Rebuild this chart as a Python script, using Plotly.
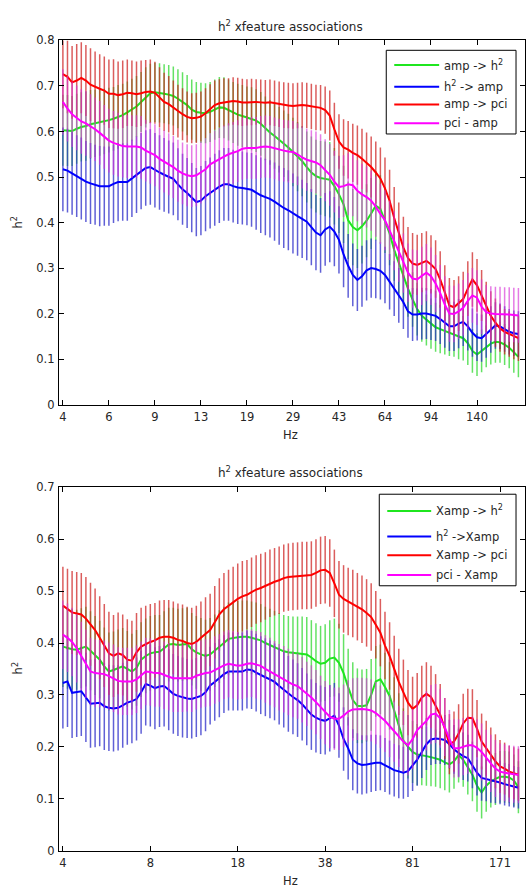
import plotly.graph_objects as go

# frequency-bin index (x positions of the 100 log-spaced bins)
BINS = list(range(1, 101))

# tick labels (Hz) and the bins they sit on
TOP_TICK_BINS = [1, 11, 21, 31, 41, 51, 61, 71, 81, 91]
TOP_TICK_HZ = ["4", "6", "9", "13", "19", "29", "43", "64", "94", "140"]
BOT_TICK_BINS = [1, 20, 39, 58, 77, 96]
BOT_TICK_HZ = ["4", "8", "18", "38", "81", "171"]

# ---------------- top panel ----------------
top_amp_h2 = [0.603, 0.602, 0.601, 0.606, 0.61, 0.612, 0.616, 0.618, 0.62, 0.622,
              0.625, 0.628, 0.632, 0.636, 0.642, 0.648, 0.655, 0.665, 0.675, 0.684,
              0.686, 0.685, 0.683, 0.681, 0.678, 0.672, 0.665, 0.658, 0.648, 0.643,
              0.641, 0.64, 0.643, 0.648, 0.653, 0.652, 0.647, 0.642, 0.637, 0.634,
              0.631, 0.628, 0.624, 0.617, 0.607, 0.598, 0.59, 0.582, 0.573, 0.565,
              0.555, 0.545, 0.535, 0.522, 0.51, 0.502, 0.498, 0.496, 0.494, 0.48,
              0.462, 0.44, 0.405, 0.39, 0.383, 0.392, 0.404, 0.42, 0.437, 0.43,
              0.405, 0.376, 0.34, 0.31, 0.285, 0.255, 0.231, 0.21, 0.195, 0.186,
              0.178, 0.17, 0.166, 0.162, 0.158, 0.155, 0.15, 0.146, 0.135, 0.118,
              0.11, 0.118, 0.128, 0.134, 0.138, 0.137, 0.132, 0.125, 0.115, 0.105]
top_h2_amp = [0.517, 0.514, 0.508, 0.502, 0.497, 0.49, 0.486, 0.483, 0.48, 0.48,
              0.48, 0.485, 0.489, 0.489, 0.489, 0.497, 0.505, 0.513, 0.52, 0.522,
              0.515, 0.51, 0.505, 0.5, 0.496, 0.484, 0.473, 0.465, 0.455, 0.445,
              0.448, 0.458, 0.465, 0.472, 0.479, 0.484, 0.484, 0.48, 0.477, 0.476,
              0.474, 0.472, 0.466, 0.46, 0.456, 0.452, 0.446, 0.438, 0.432, 0.427,
              0.42, 0.414, 0.408, 0.402, 0.39, 0.378, 0.372, 0.385, 0.391, 0.38,
              0.362, 0.33, 0.305, 0.285, 0.274, 0.282, 0.295, 0.3, 0.298, 0.294,
              0.285, 0.27, 0.255, 0.24, 0.225, 0.205, 0.198, 0.198, 0.2, 0.2,
              0.198, 0.195, 0.188, 0.18, 0.172, 0.172, 0.178, 0.182, 0.172, 0.158,
              0.148, 0.146, 0.155, 0.165, 0.174, 0.172, 0.166, 0.16, 0.157, 0.155]
top_amp_pci = [0.726, 0.72, 0.708, 0.712, 0.718, 0.712, 0.703, 0.698, 0.694, 0.69,
               0.683, 0.683, 0.68, 0.682, 0.685, 0.684, 0.682, 0.684, 0.687, 0.688,
               0.685, 0.675, 0.665, 0.66, 0.652, 0.645, 0.638, 0.632, 0.629, 0.63,
               0.633, 0.64, 0.65, 0.658, 0.662, 0.664, 0.665, 0.667, 0.666, 0.664,
               0.664, 0.665, 0.665, 0.664, 0.663, 0.664, 0.662, 0.66, 0.658, 0.657,
               0.656, 0.657, 0.658, 0.657, 0.655, 0.653, 0.652, 0.647, 0.635, 0.605,
               0.578, 0.565, 0.56, 0.553, 0.548, 0.54, 0.532, 0.522, 0.51, 0.497,
               0.475, 0.448, 0.41, 0.376, 0.345, 0.322, 0.31, 0.307, 0.312, 0.316,
               0.308, 0.298, 0.275, 0.245, 0.218, 0.214, 0.222, 0.232, 0.255, 0.275,
               0.262, 0.24, 0.215, 0.195, 0.18, 0.168, 0.16, 0.155, 0.15, 0.146]
top_pci_amp = [0.665, 0.65, 0.638, 0.63, 0.622, 0.618, 0.612, 0.605, 0.597, 0.588,
               0.58, 0.575, 0.571, 0.568, 0.567, 0.567, 0.567, 0.565, 0.558, 0.553,
               0.548, 0.54, 0.534, 0.528, 0.522, 0.514, 0.508, 0.504, 0.502, 0.504,
               0.51, 0.517, 0.528, 0.534, 0.54, 0.545, 0.55, 0.553, 0.557, 0.562,
               0.564, 0.564, 0.564, 0.566, 0.567, 0.566, 0.563, 0.56, 0.558, 0.556,
               0.555, 0.55, 0.543, 0.538, 0.535, 0.532, 0.526, 0.515, 0.505, 0.49,
               0.478, 0.48, 0.484, 0.482, 0.47, 0.462, 0.456, 0.448, 0.435, 0.419,
               0.405, 0.383, 0.36, 0.335, 0.311, 0.29, 0.277, 0.275, 0.283, 0.29,
               0.282, 0.266, 0.245, 0.22, 0.2, 0.199, 0.205, 0.213, 0.228, 0.24,
               0.235, 0.215, 0.203, 0.2, 0.199, 0.199, 0.198, 0.198, 0.197, 0.196]

top_amp_h2_err = [0.078, 0.078, 0.077, 0.077, 0.076, 0.076, 0.075, 0.074, 0.073, 0.072,
                  0.071, 0.07, 0.07, 0.069, 0.068, 0.068, 0.067, 0.066, 0.066, 0.065,
                  0.065, 0.065, 0.065, 0.065, 0.065, 0.065, 0.065, 0.066, 0.066, 0.066,
                  0.066, 0.066, 0.066, 0.066, 0.067, 0.067, 0.067, 0.067, 0.068, 0.068,
                  0.068, 0.069, 0.069, 0.07, 0.07, 0.071, 0.072, 0.072, 0.073, 0.074,
                  0.075, 0.076, 0.077, 0.078, 0.079, 0.08, 0.081, 0.082, 0.083, 0.084,
                  0.085, 0.085, 0.085, 0.084, 0.083, 0.082, 0.08, 0.078, 0.076, 0.074,
                  0.072, 0.07, 0.068, 0.066, 0.064, 0.062, 0.06, 0.058, 0.057, 0.056,
                  0.055, 0.054, 0.053, 0.052, 0.051, 0.05, 0.05, 0.049, 0.048, 0.048,
                  0.047, 0.047, 0.046, 0.046, 0.046, 0.045, 0.045, 0.045, 0.045, 0.045]
top_h2_amp_err = [0.092, 0.092, 0.091, 0.09, 0.09, 0.089, 0.089, 0.088, 0.088, 0.087,
                  0.087, 0.086, 0.086, 0.085, 0.085, 0.085, 0.084, 0.084, 0.083, 0.083,
                  0.082, 0.082, 0.081, 0.08, 0.08, 0.079, 0.078, 0.077, 0.076, 0.075,
                  0.076, 0.077, 0.078, 0.079, 0.08, 0.08, 0.08, 0.08, 0.08, 0.08,
                  0.08, 0.081, 0.082, 0.083, 0.084, 0.085, 0.086, 0.087, 0.088, 0.088,
                  0.088, 0.087, 0.086, 0.085, 0.084, 0.083, 0.082, 0.08, 0.078, 0.076,
                  0.074, 0.072, 0.07, 0.069, 0.068, 0.067, 0.066, 0.065, 0.064, 0.063,
                  0.062, 0.061, 0.06, 0.06, 0.059, 0.058, 0.058, 0.057, 0.057, 0.056,
                  0.056, 0.055, 0.055, 0.055, 0.054, 0.054, 0.054, 0.053, 0.053, 0.053,
                  0.052, 0.052, 0.052, 0.051, 0.051, 0.05, 0.05, 0.05, 0.05, 0.05]
top_amp_pci_err = [0.075, 0.08, 0.08, 0.08, 0.078, 0.078, 0.08, 0.078, 0.076, 0.075,
                   0.075, 0.076, 0.074, 0.074, 0.073, 0.072, 0.072, 0.072, 0.07, 0.07,
                   0.068, 0.066, 0.064, 0.062, 0.06, 0.058, 0.057, 0.056, 0.055, 0.055,
                   0.055, 0.055, 0.054, 0.054, 0.053, 0.053, 0.052, 0.052, 0.052, 0.052,
                   0.051, 0.051, 0.05, 0.05, 0.05, 0.05, 0.05, 0.05, 0.05, 0.05,
                   0.05, 0.05, 0.05, 0.05, 0.05, 0.05, 0.05, 0.052, 0.055, 0.058,
                   0.06, 0.062, 0.063, 0.064, 0.065, 0.066, 0.066, 0.067, 0.068, 0.068,
                   0.068, 0.068, 0.068, 0.068, 0.068, 0.068, 0.067, 0.066, 0.065, 0.065,
                   0.064, 0.063, 0.062, 0.061, 0.06, 0.06, 0.06, 0.06, 0.06, 0.06,
                   0.058, 0.056, 0.055, 0.054, 0.053, 0.052, 0.05, 0.05, 0.05, 0.05]
top_pci_amp_err = [0.072, 0.072, 0.072, 0.071, 0.071, 0.071, 0.07, 0.07, 0.07, 0.07,
                   0.07, 0.07, 0.07, 0.069, 0.069, 0.069, 0.069, 0.069, 0.068, 0.068,
                   0.068, 0.068, 0.068, 0.068, 0.068, 0.068, 0.068, 0.068, 0.068, 0.068,
                   0.068, 0.068, 0.068, 0.068, 0.068, 0.068, 0.068, 0.068, 0.068, 0.068,
                   0.068, 0.068, 0.068, 0.068, 0.068, 0.068, 0.068, 0.068, 0.068, 0.068,
                   0.068, 0.068, 0.068, 0.068, 0.068, 0.068, 0.068, 0.068, 0.068, 0.068,
                   0.068, 0.068, 0.068, 0.068, 0.067, 0.067, 0.067, 0.066, 0.066, 0.066,
                   0.066, 0.065, 0.065, 0.065, 0.065, 0.064, 0.064, 0.064, 0.064, 0.063,
                   0.063, 0.063, 0.062, 0.062, 0.062, 0.062, 0.061, 0.061, 0.061, 0.06,
                   0.06, 0.06, 0.06, 0.06, 0.06, 0.06, 0.06, 0.06, 0.06, 0.06]

# ---------------- bottom panel ----------------
bot_xamp_h2 = [0.393, 0.39, 0.388, 0.387, 0.39, 0.393, 0.385, 0.376, 0.368, 0.355,
               0.345, 0.348, 0.352, 0.355, 0.35, 0.345, 0.352, 0.368, 0.375, 0.38,
               0.382, 0.383, 0.39, 0.397, 0.398, 0.396, 0.397, 0.398, 0.388, 0.382,
               0.378, 0.375, 0.378, 0.385, 0.393, 0.4, 0.408, 0.41, 0.411, 0.412,
               0.412, 0.41, 0.408, 0.405, 0.4, 0.396, 0.392, 0.388, 0.384, 0.382,
               0.381, 0.38, 0.38, 0.378, 0.372, 0.365, 0.36, 0.362, 0.37, 0.372,
               0.362, 0.342, 0.315, 0.29, 0.279, 0.278, 0.28, 0.3, 0.326, 0.33,
               0.315, 0.298, 0.27, 0.24, 0.212, 0.2, 0.19, 0.185, 0.184, 0.182,
               0.18, 0.178, 0.175, 0.17, 0.166, 0.172, 0.184, 0.175, 0.16, 0.146,
               0.125, 0.112, 0.125, 0.133, 0.138, 0.142, 0.142, 0.141, 0.135, 0.122]
bot_h2_xamp = [0.323, 0.326, 0.304, 0.306, 0.307, 0.295, 0.283, 0.284, 0.285, 0.278,
               0.275, 0.274, 0.275, 0.28, 0.285, 0.288, 0.292, 0.305, 0.321, 0.318,
               0.313, 0.316, 0.317, 0.31, 0.302, 0.298, 0.295, 0.293, 0.292, 0.295,
               0.298, 0.305, 0.318, 0.325, 0.332, 0.34, 0.345, 0.345, 0.345, 0.345,
               0.349, 0.348, 0.343, 0.338, 0.334, 0.33, 0.325, 0.317, 0.31, 0.302,
               0.296, 0.29, 0.282, 0.272, 0.262, 0.256, 0.252, 0.25, 0.255, 0.26,
               0.241, 0.215, 0.197, 0.175, 0.168, 0.165, 0.166, 0.168, 0.169, 0.169,
               0.165, 0.16, 0.155, 0.152, 0.15, 0.153, 0.165, 0.175, 0.19, 0.205,
               0.214, 0.216, 0.215, 0.213, 0.205, 0.195, 0.188, 0.182, 0.178, 0.165,
               0.15, 0.14, 0.138, 0.135, 0.133, 0.131, 0.128, 0.126, 0.123, 0.121]
bot_xamp_pci = [0.472, 0.465, 0.459, 0.457, 0.455, 0.447, 0.436, 0.425, 0.41, 0.395,
                0.38, 0.375, 0.38, 0.377, 0.368, 0.366, 0.382, 0.393, 0.398, 0.402,
                0.405, 0.41, 0.412, 0.412, 0.41, 0.406, 0.404, 0.4, 0.398, 0.402,
                0.41, 0.418, 0.425, 0.44, 0.455, 0.465, 0.472, 0.478, 0.485, 0.49,
                0.493, 0.498, 0.503, 0.506, 0.51, 0.515, 0.518, 0.521, 0.525, 0.527,
                0.528, 0.529, 0.53, 0.53, 0.531, 0.535, 0.54, 0.541, 0.535, 0.515,
                0.493, 0.485, 0.48, 0.476, 0.47, 0.465, 0.458, 0.45, 0.435, 0.42,
                0.395, 0.375, 0.35, 0.325, 0.305, 0.285, 0.273, 0.28, 0.295, 0.302,
                0.296, 0.28, 0.262, 0.235, 0.205, 0.21, 0.225, 0.245, 0.256, 0.255,
                0.235, 0.21, 0.197, 0.185, 0.172, 0.162, 0.158, 0.152, 0.149, 0.146]
bot_pci_xamp = [0.416, 0.41, 0.402, 0.39, 0.375, 0.36, 0.345, 0.342, 0.341, 0.34,
                0.336, 0.332, 0.327, 0.326, 0.326, 0.326, 0.33, 0.338, 0.345, 0.344,
                0.342, 0.342, 0.338, 0.335, 0.332, 0.332, 0.332, 0.333, 0.332, 0.337,
                0.34, 0.342, 0.343, 0.348, 0.352, 0.357, 0.36, 0.358, 0.356, 0.357,
                0.36, 0.361, 0.358, 0.356, 0.35, 0.345, 0.34, 0.334, 0.33, 0.325,
                0.32, 0.317, 0.31, 0.302, 0.295, 0.286, 0.276, 0.266, 0.258, 0.254,
                0.254, 0.26, 0.268, 0.272, 0.273, 0.273, 0.272, 0.27, 0.265, 0.258,
                0.25, 0.24, 0.23, 0.22, 0.21, 0.203, 0.215, 0.232, 0.241, 0.25,
                0.262, 0.264, 0.255, 0.238, 0.215, 0.197, 0.197, 0.2, 0.203, 0.203,
                0.198, 0.19, 0.178, 0.168, 0.158, 0.152, 0.15, 0.148, 0.147, 0.146]

bot_xamp_h2_err = [0.078, 0.078, 0.078, 0.077, 0.077, 0.077, 0.076, 0.076, 0.075, 0.075,
                   0.075, 0.074, 0.074, 0.074, 0.073, 0.073, 0.073, 0.072, 0.072, 0.072,
                   0.072, 0.071, 0.071, 0.071, 0.07, 0.07, 0.07, 0.07, 0.07, 0.07,
                   0.07, 0.07, 0.07, 0.07, 0.07, 0.07, 0.07, 0.07, 0.07, 0.07,
                   0.07, 0.07, 0.07, 0.07, 0.07, 0.07, 0.07, 0.07, 0.07, 0.07,
                   0.07, 0.071, 0.071, 0.072, 0.072, 0.073, 0.073, 0.074, 0.074, 0.075,
                   0.075, 0.075, 0.074, 0.073, 0.072, 0.071, 0.07, 0.069, 0.068, 0.067,
                   0.066, 0.065, 0.064, 0.063, 0.062, 0.061, 0.06, 0.059, 0.058, 0.057,
                   0.056, 0.055, 0.055, 0.054, 0.054, 0.053, 0.053, 0.052, 0.052, 0.051,
                   0.05, 0.05, 0.05, 0.05, 0.05, 0.05, 0.05, 0.05, 0.05, 0.05]
bot_h2_xamp_err = [0.088, 0.088, 0.087, 0.087, 0.086, 0.086, 0.085, 0.085, 0.084, 0.084,
                   0.083, 0.083, 0.082, 0.082, 0.081, 0.081, 0.08, 0.08, 0.08, 0.079,
                   0.079, 0.078, 0.078, 0.078, 0.077, 0.077, 0.077, 0.076, 0.076, 0.076,
                   0.076, 0.075, 0.075, 0.075, 0.075, 0.075, 0.075, 0.075, 0.075, 0.075,
                   0.075, 0.075, 0.075, 0.075, 0.075, 0.075, 0.074, 0.074, 0.073, 0.073,
                   0.072, 0.071, 0.07, 0.069, 0.068, 0.067, 0.066, 0.065, 0.064, 0.063,
                   0.062, 0.061, 0.06, 0.059, 0.058, 0.057, 0.056, 0.055, 0.054, 0.053,
                   0.052, 0.052, 0.051, 0.051, 0.05, 0.05, 0.05, 0.05, 0.05, 0.05,
                   0.049, 0.049, 0.048, 0.048, 0.047, 0.047, 0.046, 0.046, 0.045, 0.045,
                   0.044, 0.044, 0.043, 0.043, 0.042, 0.042, 0.041, 0.041, 0.04, 0.04]
bot_xamp_pci_err = [0.075, 0.078, 0.08, 0.08, 0.08, 0.08, 0.08, 0.08, 0.08, 0.08,
                    0.08, 0.079, 0.079, 0.078, 0.078, 0.077, 0.076, 0.075, 0.074, 0.073,
                    0.072, 0.072, 0.071, 0.071, 0.07, 0.07, 0.07, 0.07, 0.07, 0.07,
                    0.07, 0.07, 0.07, 0.07, 0.07, 0.07, 0.069, 0.069, 0.068, 0.068,
                    0.067, 0.067, 0.066, 0.066, 0.065, 0.065, 0.065, 0.065, 0.065, 0.065,
                    0.065, 0.065, 0.065, 0.065, 0.065, 0.065, 0.065, 0.065, 0.065, 0.065,
                    0.065, 0.065, 0.065, 0.065, 0.065, 0.065, 0.065, 0.065, 0.065, 0.065,
                    0.065, 0.065, 0.064, 0.064, 0.063, 0.063, 0.062, 0.062, 0.061, 0.061,
                    0.06, 0.06, 0.059, 0.059, 0.058, 0.058, 0.057, 0.057, 0.056, 0.056,
                    0.055, 0.054, 0.053, 0.052, 0.052, 0.051, 0.05, 0.05, 0.05, 0.05]
bot_pci_xamp_err = [0.066, 0.066, 0.066, 0.066, 0.066, 0.066, 0.065, 0.065, 0.065, 0.065,
                    0.065, 0.065, 0.065, 0.065, 0.065, 0.065, 0.065, 0.065, 0.065, 0.065,
                    0.065, 0.065, 0.065, 0.065, 0.065, 0.065, 0.065, 0.065, 0.065, 0.065,
                    0.065, 0.065, 0.065, 0.065, 0.065, 0.065, 0.065, 0.065, 0.065, 0.065,
                    0.065, 0.065, 0.065, 0.065, 0.065, 0.065, 0.064, 0.064, 0.064, 0.064,
                    0.063, 0.063, 0.063, 0.062, 0.062, 0.062, 0.061, 0.061, 0.061, 0.06,
                    0.06, 0.06, 0.06, 0.06, 0.06, 0.06, 0.06, 0.06, 0.06, 0.06,
                    0.06, 0.06, 0.059, 0.059, 0.059, 0.058, 0.058, 0.058, 0.058, 0.057,
                    0.057, 0.057, 0.057, 0.056, 0.056, 0.056, 0.056, 0.055, 0.055, 0.055,
                    0.055, 0.055, 0.055, 0.055, 0.055, 0.055, 0.055, 0.055, 0.055, 0.055]

TOP_NAMES = ["amp -> h<sup>2</sup>", "h<sup>2</sup> -> amp", "amp -> pci", "pci - amp"]
BOT_NAMES = ["Xamp -> h<sup>2</sup>", "h<sup>2</sup> ->Xamp", "Xamp -> pci", "pci - Xamp"]
TITLE = "h<sup>2</sup> xfeature associations"

LINE_COLORS = ["#1fe61f", "#0000ff", "#ff0000", "#ff00ff"]
BAR_COLORS = ["rgba(40,215,40,0.72)", "rgba(40,40,200,0.74)",
              "rgba(205,30,30,0.72)", "rgba(215,50,215,0.65)"]

FONT = "DejaVu Sans, Verdana, sans-serif"
TXT = "#262626"
FS = 11.5

W, H = 526, 892
X0 = 59 / W


def px_x(p):
    return p / W


def px_y(p):
    return 1 - p / H


fig = go.Figure()

top_series = [(top_amp_h2, top_amp_h2_err), (top_h2_amp, top_h2_amp_err),
              (top_amp_pci, top_amp_pci_err), (top_pci_amp, top_pci_amp_err)]
bot_series = [(bot_xamp_h2, bot_xamp_h2_err), (bot_h2_xamp, bot_h2_xamp_err),
              (bot_xamp_pci, bot_xamp_pci_err), (bot_pci_xamp, bot_pci_xamp_err)]

for k, (vals, err) in enumerate(top_series):
    fig.add_trace(go.Scatter(
        x=BINS, y=vals, mode="lines", name=TOP_NAMES[k], showlegend=False,
        line=dict(color=LINE_COLORS[k], width=2),
        error_y=dict(type="data", array=err, symmetric=True,
                     color=BAR_COLORS[k], thickness=1.5, width=0),
        xaxis="x", yaxis="y"))

for k, (vals, err) in enumerate(bot_series):
    fig.add_trace(go.Scatter(
        x=BINS, y=vals, mode="lines", name=BOT_NAMES[k], showlegend=False,
        line=dict(color=LINE_COLORS[k], width=2),
        error_y=dict(type="data", array=err, symmetric=True,
                     color=BAR_COLORS[k], thickness=1.5, width=0),
        xaxis="x2", yaxis="y2"))

axis_common = dict(showline=True, linecolor="black", linewidth=1, mirror="ticks",
                   ticks="inside", ticklen=5, tickcolor="black", tickwidth=1,
                   showgrid=False, zeroline=False,
                   tickfont=dict(family=FONT, size=FS, color=TXT))

fig.update_layout(
    width=W, height=H,
    margin=dict(l=0, r=0, t=0, b=0),
    paper_bgcolor="white", plot_bgcolor="white",
    showlegend=False,
    xaxis=dict(domain=[X0, 1.0], anchor="y", range=[0.13, 101.43],
               tickmode="array", tickvals=TOP_TICK_BINS, ticktext=TOP_TICK_HZ,
               ticklabelstandoff=2, **axis_common),
    yaxis=dict(domain=[px_y(404), px_y(34)], anchor="x", range=[0, 0.8],
               dtick=0.1, tick0=0, ticklabelstandoff=1, **axis_common),
    xaxis2=dict(domain=[X0, 1.0], anchor="y2", range=[0.13, 101.43],
                tickmode="array", tickvals=BOT_TICK_BINS, ticktext=BOT_TICK_HZ,
                ticklabelstandoff=2, **axis_common),
    yaxis2=dict(domain=[px_y(857), px_y(488)], anchor="x2", range=[0, 0.7],
                dtick=0.1, tick0=0, ticklabelstandoff=1, **axis_common),
)

ann_font = dict(family=FONT, size=FS, color=TXT)
annotations = [
    dict(text=TITLE, x=px_x(291), y=px_y(19), font=dict(family=FONT, size=12, color=TXT)),
    dict(text="Hz", x=px_x(291), y=px_y(435), font=ann_font),
    dict(text="h<sup>2</sup>", x=px_x(18), y=px_y(219), textangle=-90, font=ann_font),
    dict(text=TITLE, x=px_x(291), y=px_y(472), font=dict(family=FONT, size=12, color=TXT)),
    dict(text="Hz", x=px_x(291), y=px_y(888), font=ann_font),
    dict(text="h<sup>2</sup>", x=px_x(18), y=px_y(672), textangle=-90, font=ann_font),
]
for a in annotations:
    fig.add_annotation(xref="paper", yref="paper", xanchor="center", yanchor="middle",
                       showarrow=False, **a)

# hand-built legends (MATLAB style: boxed, long line samples)
legends = [
    dict(box=(387, 44, 517, 129), line=(395, 440), text_x=443,
         rows=[59, 81, 99, 118], names=TOP_NAMES),
    dict(box=(380, 495, 517, 588), line=(388, 432), text_x=435,
         rows=[512, 538, 557, 577], names=BOT_NAMES),
]
for lg in legends:
    x0, y0, x1, y1 = lg["box"]
    fig.add_shape(type="rect", xref="paper", yref="paper",
                  x0=px_x(x0), x1=px_x(x1), y0=px_y(y1), y1=px_y(y0),
                  line=dict(color="black", width=1), fillcolor="white", layer="above")
    for k, ry in enumerate(lg["rows"]):
        fig.add_shape(type="line", xref="paper", yref="paper",
                      x0=px_x(lg["line"][0]), x1=px_x(lg["line"][1]),
                      y0=px_y(ry), y1=px_y(ry),
                      line=dict(color=LINE_COLORS[k], width=2), layer="above")
        fig.add_annotation(xref="paper", yref="paper", x=px_x(lg["text_x"]), y=px_y(ry),
                           xanchor="left", yanchor="middle", showarrow=False,
                           text=lg["names"][k], font=ann_font)

fig.write_html("out.html")
